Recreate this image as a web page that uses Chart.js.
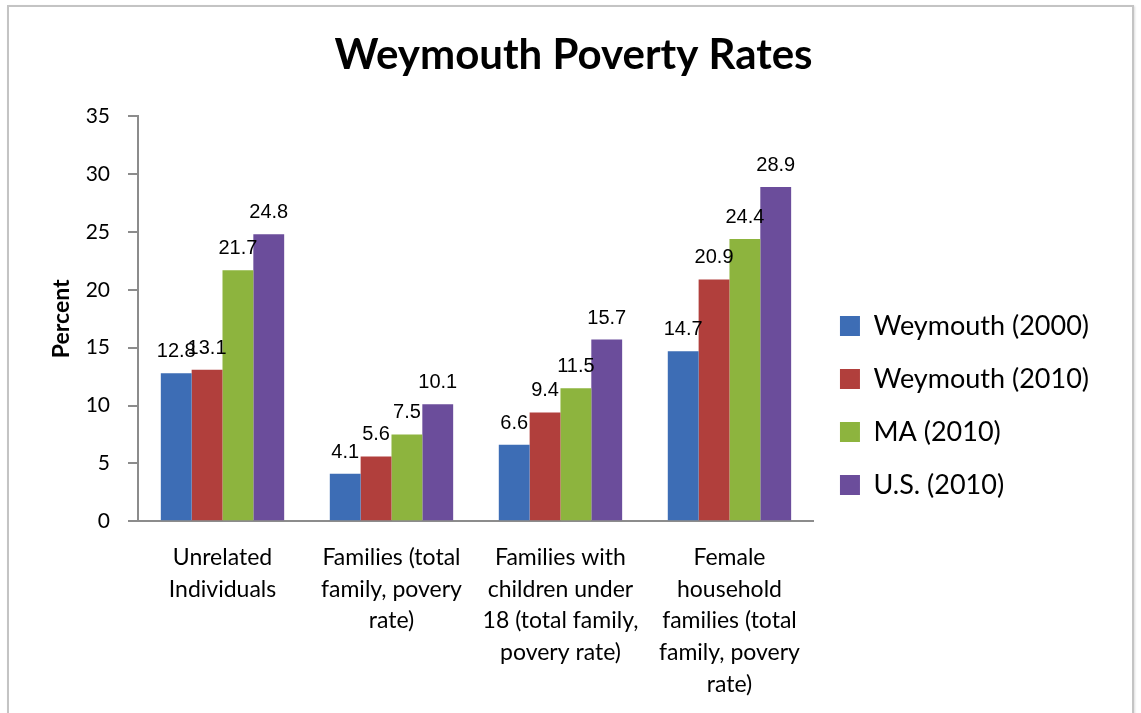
<!DOCTYPE html>
<html>
<head>
<meta charset="utf-8">
<script src="https://cdn.jsdelivr.net/npm/chart.js@4"></script>
<style>
  html, body { margin: 0; padding: 0; background: #fff; }
  body { width: 1141px; height: 713px; position: relative; overflow: hidden; }
  #frame { position: absolute; left: 7px; top: 5px; width: 1123px; height: 730px; border: 2px solid #c4c4c4; box-shadow: 1px 1px 2px #ddd; }
  #wrap { position: absolute; left: 0; top: 0; width: 1141px; height: 713px; }
</style>
</head>
<body>
<div id="frame"></div>
<div id="wrap"><canvas id="povertyChart" width="1141" height="713"></canvas></div>
<script>
const categories = [
    ['Unrelated', 'Individuals'],
    ['Families (total', 'family, povery', 'rate)'],
    ['Families with', 'children under', '18 (total family,', 'povery rate)'],
    ['Female', 'household', 'families (total', 'family, povery', 'rate)']
];
const seriesNames = ['Weymouth (2000)', 'Weymouth (2010)', 'MA (2010)', 'U.S. (2010)'];
const weymouth2000 = [12.8, 4.1, 6.6, 14.7];
const weymouth2010 = [13.1, 5.6, 9.4, 20.9];
const ma2010 = [21.7, 7.5, 11.5, 24.4];
const us2010 = [24.8, 10.1, 15.7, 28.9];
const yTicks = [0, 5, 10, 15, 20, 25, 30, 35];
const colors = ['#3D6DB5', '#B13F3C', '#8DB43E', '#6B4D9B'];

const bodyFont = 'Lato, "Open Sans", sans-serif';

// value labels above each bar
const barLabels = {
    id: 'barLabels',
    afterDatasetsDraw(chart) {
        const ctx = chart.ctx;
        ctx.save();
        ctx.font = '20px "Liberation Sans", Arial, sans-serif';
        ctx.fillStyle = '#000';
        ctx.textAlign = 'center';
        ctx.textBaseline = 'alphabetic';
        chart.data.datasets.forEach((ds, i) => {
            chart.getDatasetMeta(i).data.forEach((bar, j) => {
                ctx.fillText(ds.data[j].toFixed(1), bar.x, bar.y - 16);
            });
        });
        ctx.restore();
    }
};

function createChart() {
    const ctx = document.getElementById('povertyChart').getContext('2d');
    const values = [weymouth2000, weymouth2010, ma2010, us2010];
    const datasets = seriesNames.map((name, i) => ({
        label: name,
        data: values[i],
        backgroundColor: colors[i],
        borderWidth: 0,
        categoryPercentage: 0.73,
        barPercentage: 1.0
    }));

    new Chart(ctx, {
        type: 'bar',
        data: { labels: categories, datasets },
        plugins: [barLabels],
        options: {
            responsive: false,
            animation: false,
            layout: { padding: { left: 48, right: 42, top: 10, bottom: 0 } },
            plugins: {
                title: {
                    display: true,
                    text: 'Weymouth Poverty Rates',
                    color: '#000',
                    font: { family: bodyFont, size: 42, weight: 'bold' },
                    padding: { top: 20, bottom: 36 }
                },
                legend: {
                    position: 'right',
                    maxWidth: 340,
                    title: { display: true, text: ' ', font: { size: 20, lineHeight: 1 }, padding: { top: 34, bottom: 34 } },
                    labels: {
                        color: '#000',
                        font: { family: bodyFont, size: 27 },
                        boxWidth: 20,
                        boxHeight: 20,
                        padding: 26
                    }
                },
                tooltip: { enabled: false }
            },
            scales: {
                x: {
                    grid: { display: false },
                    border: { color: '#8c8c8c', width: 2 },
                    ticks: {
                        color: '#000',
                        maxRotation: 0,
                        autoSkip: false,
                        padding: 12,
                        font: { family: bodyFont, size: 23, lineHeight: 1.39 }
                    }
                },
                y: {
                    min: 0,
                    max: 35,
                    afterBuildTicks: axis => { axis.ticks = yTicks.map(v => ({ value: v })); },
                    afterFit: axis => { axis.width = 90; },
                    grid: { drawOnChartArea: false, drawTicks: true, tickLength: 10, color: '#8c8c8c', lineWidth: 2 },
                    border: { color: '#8c8c8c', width: 2 },
                    ticks: {
                        color: '#000',
                        padding: 18,
                        font: { family: bodyFont, size: 21 }
                    },
                    title: {
                        display: true,
                        text: 'Percent',
                        color: '#000',
                        font: { family: bodyFont, size: 23, weight: 'bold' },
                        padding: { top: 0, bottom: 4 }
                    }
                }
            }
        }
    });
}

window.addEventListener('DOMContentLoaded', () => {
    Promise.all([
        document.fonts.load('27px Lato'),
        document.fonts.load('bold 42px Lato')
    ]).catch(() => {}).then(createChart);
});
</script>
</body>
</html>
